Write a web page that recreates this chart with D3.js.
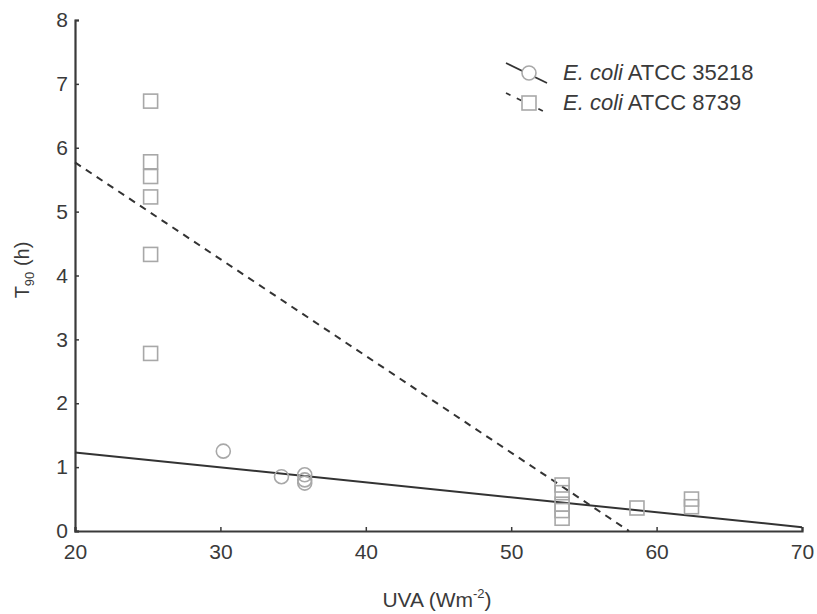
<!DOCTYPE html>
<html><head><meta charset="utf-8">
<script src="https://cdn.jsdelivr.net/npm/d3@7"></script>
<style>body{margin:0;background:#fff}svg{display:block}text{font-family:"Liberation Sans",Arial,sans-serif;fill:#3a3a3a}</style>
</head><body><svg id="c" width="817" height="614"></svg>
<script>
const xTicks=[20,30,40,50,60,70];
const yTicks=[0,1,2,3,4,5,6,7,8];
const seriesNames=["E. coli","E. coli"];
const seriesStrains=["ATCC 35218","ATCC 8739"];
// E. coli ATCC 35218 (circles)
const circX=[30.2,34.2,35.8,35.8,35.8];
const circY=[1.25,0.85,0.88,0.8,0.75];
// E. coli ATCC 8739 (squares)
const sqX=[25.2,25.2,25.2,25.2,25.2,25.2,53.5,53.5,53.5,53.5,53.5,58.65,62.4,62.4];
const sqY=[6.73,5.78,5.55,5.23,4.33,2.78,0.72,0.6,0.42,0.32,0.2,0.36,0.5,0.38];
// fitted lines
const fit1X=[20,70], fit1Y=[1.23,0.06];
const fit2X=[20,58.1], fit2Y=[5.77,0];

const svg=d3.select("#c");
const x=d3.scaleLinear().domain([20,70]).range([75,802]);
const y=d3.scaleLinear().domain([0,8]).range([531,20]);
const axCol="#3a3a3a";

// x axis
const gx=svg.append("g").attr("transform","translate(0,531)")
 .call(d3.axisBottom(x).tickValues(xTicks).tickSize(-4).tickPadding(9).tickFormat(d3.format("d")));
gx.select(".domain").attr("stroke",axCol).attr("stroke-width",2.2);
gx.selectAll(".tick line").attr("stroke",axCol).attr("stroke-width",1.5);
gx.selectAll(".tick text").attr("font-size",21).attr("dy","0.9em").style("fill","#3a3a3a");
// y axis
const gy=svg.append("g").attr("transform","translate(75,0)")
 .call(d3.axisLeft(y).tickValues(yTicks).tickSize(-4).tickPadding(7));
gy.select(".domain").attr("stroke",axCol).attr("stroke-width",2.2);
gy.selectAll(".tick line").attr("stroke",axCol).attr("stroke-width",1.5);
gy.selectAll(".tick text").attr("font-size",21).style("fill","#3a3a3a");

// axis titles
const xt=svg.append("text").attr("x",437).attr("y",607).attr("text-anchor","middle").attr("font-size",21);
xt.append("tspan").text("UVA (Wm");
xt.append("tspan").attr("font-size",13).attr("dy",-9).text("-2");
xt.append("tspan").attr("dy",9).text(")");
const yt=svg.append("text").attr("transform","translate(29,270) rotate(-90)").attr("text-anchor","middle").attr("font-size",20);
yt.append("tspan").text("T");
yt.append("tspan").attr("font-size",13).attr("dy",5).text("90");
yt.append("tspan").attr("dy",-5).text(" (h)");

// lines
const line=d3.line().x(d=>x(d[0])).y(d=>y(d[1]));
svg.append("path").attr("d",line(d3.zip(fit1X,fit1Y))).attr("fill","none").attr("stroke","#333").attr("stroke-width",2);
svg.append("path").attr("d",line(d3.zip(fit2X,fit2Y))).attr("fill","none").attr("stroke","#333").attr("stroke-width",2).attr("stroke-dasharray","7,6");

// points
const ptCol="#a8a8a8";
svg.append("g").selectAll("rect").data(d3.zip(sqX,sqY)).join("rect")
 .attr("x",d=>x(d[0])-7).attr("y",d=>y(d[1])-7).attr("width",14).attr("height",14)
 .attr("fill","none").attr("stroke",ptCol).attr("stroke-width",1.6);
svg.append("g").selectAll("circle").data(d3.zip(circX,circY)).join("circle")
 .attr("cx",d=>x(d[0])).attr("cy",d=>y(d[1])).attr("r",7)
 .attr("fill","none").attr("stroke",ptCol).attr("stroke-width",1.6);

// legend
const lg=svg.append("g");
const ly=[73,103];
lg.append("line").attr("x1",506).attr("y1",ly[0]-10).attr("x2",547).attr("y2",ly[0]+10).attr("stroke","#333").attr("stroke-width",1.8);
lg.append("circle").attr("cx",529).attr("cy",ly[0]).attr("r",7).attr("fill","#fff").attr("stroke",ptCol).attr("stroke-width",1.6);
lg.append("line").attr("x1",506).attr("y1",ly[1]-10).attr("x2",547).attr("y2",ly[1]+10).attr("stroke","#333").attr("stroke-width",1.8).attr("stroke-dasharray","5,7");
lg.append("rect").attr("x",522).attr("y",ly[1]-7).attr("width",14).attr("height",14).attr("fill","#fff").attr("stroke",ptCol).attr("stroke-width",1.6);
seriesNames.forEach((n,i)=>{
 const t=lg.append("text").attr("x",563).attr("y",ly[i]+7).attr("font-size",22);
 t.append("tspan").attr("font-style","italic").text(n);
 t.append("tspan").text(" "+seriesStrains[i]);
});
</script></body></html>
